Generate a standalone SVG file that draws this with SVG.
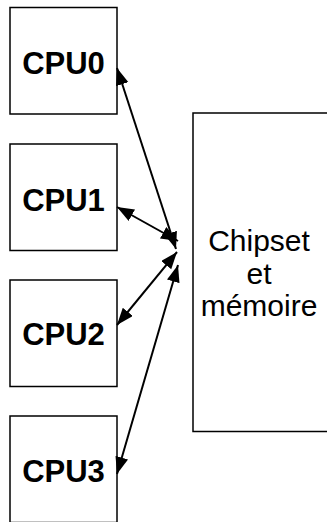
<svg xmlns="http://www.w3.org/2000/svg" width="327" height="522" viewBox="0 0 327 522">
<style>
.box{fill:#fff;stroke:#000;stroke-width:1.5}
.cpu{font-family:"Liberation Sans",Arial,sans-serif;font-weight:bold;font-size:31px;text-anchor:middle;fill:#000}
.chip{font-family:"Liberation Sans",Arial,sans-serif;font-size:30px;text-anchor:middle;fill:#000}
.conn{stroke:#000;stroke-width:2;fill:none;marker-start:url(#ah);marker-end:url(#ah)}
</style>
<defs>
<marker id="ah" markerUnits="userSpaceOnUse" markerWidth="18" markerHeight="14" refX="17" refY="6.5" orient="auto-start-reverse">
<path d="M0,0 L17,6.5 L0,13 z" fill="#000"/>
</marker>
</defs>
<rect width="327" height="522" fill="#fff"/>
<g id="cpu0"><rect class="box" x="10" y="7.5" width="107" height="106.5"/><text class="cpu" x="63.5" y="74">CPU0</text></g>
<g id="cpu1"><rect class="box" x="10" y="144" width="107" height="106.5"/><text class="cpu" x="63.5" y="210.5">CPU1</text></g>
<g id="cpu2"><rect class="box" x="10" y="280" width="107" height="106.5"/><text class="cpu" x="63.5" y="345">CPU2</text></g>
<g id="cpu3"><rect class="box" x="10" y="416" width="107" height="106.5"/><text class="cpu" x="63.5" y="481.5">CPU3</text></g>
<g id="chipset"><rect class="box" x="193" y="113" width="150" height="318.5"/>
<text class="chip" x="259" y="251">Chipset</text>
<text class="chip" x="259" y="284">et</text>
<text class="chip" x="259" y="316">mémoire</text></g>
<g id="connectors">
<line class="conn" x1="117" y1="68" x2="176" y2="249"/>
<line class="conn" x1="117" y1="207" x2="178" y2="241"/>
<line class="conn" x1="117" y1="325" x2="177" y2="252"/>
<line class="conn" x1="117" y1="474" x2="178" y2="265"/>
</g>
</svg>
